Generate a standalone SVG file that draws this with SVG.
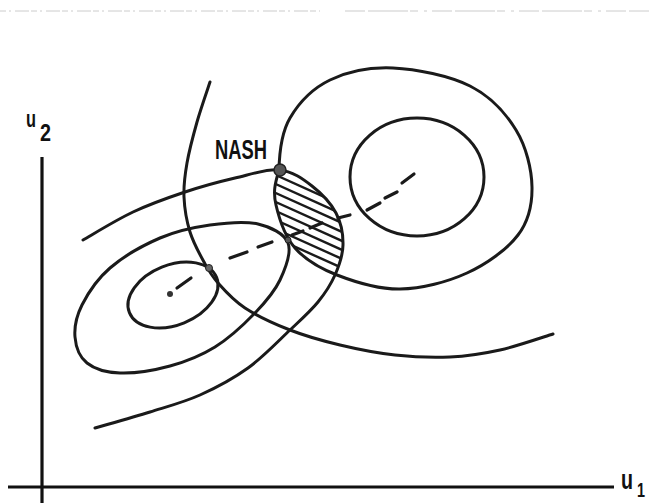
<svg xmlns="http://www.w3.org/2000/svg" width="649" height="503" viewBox="0 0 649 503">
<style>
.c{fill:none;stroke:#1a1a1a;stroke-width:3;stroke-linecap:round;stroke-linejoin:round}
.ax{fill:none;stroke:#111;stroke-width:3.2}
.h{stroke:#1a1a1a;stroke-width:2.4}
.d{stroke:#1a1a1a;stroke-width:3.2;stroke-linecap:round}
.t{font-family:"Liberation Sans","DejaVu Sans",sans-serif;font-weight:bold;fill:#111}
</style>
<defs>
<clipPath id="lensClip">
<path d="M279,170 C292.8,171.3 302.7,178.8 312,186 C321.3,193.2 330.8,203.2 336,213 C341.2,222.8 343.2,234.7 343,245 C342.8,255.3 339.2,265.5 336,275 C319.5,268.2 305.2,259.7 295,248 C284.8,236.3 279,218 276,205 C273,192 274.7,184.5 279,170 Z"/>
</clipPath>
</defs>
<rect width="649" height="503" fill="#fff"/>
<g id="scan-artifact" stroke="#aaa" stroke-width="1" fill="none" opacity="0.6">
<path d="M0,11 H320" stroke-dasharray="6 3 2 4 14 2"/>
<path d="M345,11 H649" stroke-dasharray="20 3 40 2 8 6 3 5"/>
</g>
<g id="axes">
<line class="ax" x1="42" y1="157" x2="42" y2="503"/>
<line class="ax" x1="8" y1="487" x2="614" y2="487"/>
</g>
<g id="labels">
<text class="t" x="26" y="127" font-size="24" textLength="10" lengthAdjust="spacingAndGlyphs">u</text>
<text class="t" x="40" y="141" font-size="23" textLength="11" lengthAdjust="spacingAndGlyphs">2</text>
<text class="t" x="621" y="489" font-size="28" textLength="12" lengthAdjust="spacingAndGlyphs">u</text>
<text class="t" x="637" y="497" font-size="20" textLength="8" lengthAdjust="spacingAndGlyphs">1</text>
<text class="t" x="215" y="159" font-size="27" textLength="52" lengthAdjust="spacingAndGlyphs">NASH</text>
</g>
<g id="player2-curves">
<ellipse class="c" cx="417" cy="177" rx="67" ry="59"/>
<path class="c" d="M279,170 C274.7,184.5 273,192 276,205 C279,218 284.8,236.3 295,248 C305.2,259.7 319.5,268.2 337,275 C354.5,281.8 378.3,289.3 400,289 C421.7,288.7 447.3,282 467,273 C486.7,264 507.2,249.3 518,235 C528.8,220.7 532.3,204.5 532,187 C531.7,169.5 526.3,146.8 516,130 C505.7,113.2 490.5,96.3 470,86 C449.5,75.7 416.3,69 393,68 C369.7,67 347.2,71.7 330,80 C312.8,88.3 298.8,103 290,118 C281.2,133 279.3,155.5 279,170 Z"/>
<path class="c" d="M210,82 C207.8,88.7 200.8,108.5 197,122 C193.2,135.5 189.2,150.5 187,163 C184.8,175.5 183.5,185.5 184,197 C184.5,208.5 186.7,221.2 190,232 C193.3,242.8 199.3,253.5 204,262 C208.7,270.5 211.2,275.3 218,283 C224.8,290.7 233,300.2 245,308 C257,315.8 274.2,323.8 290,330 C305.8,336.2 322.5,340.8 340,345 C357.5,349.2 376.7,353 395,355 C413.3,357 432.5,357.8 450,357 C467.5,356.2 482.8,353.8 500,350 C517.2,346.2 544.2,336.7 553,334"/>
</g>
<g id="player1-curves">
<ellipse class="c" cx="0" cy="0" rx="47" ry="30" transform="translate(173 295) rotate(-22)"/>
<path class="c" d="M288,243 C291.7,252.3 285.5,268.3 280,280 C274.5,291.7 265.8,301.8 255,313 C244.2,324.2 229.2,338.2 215,347 C200.8,355.8 185.8,361.7 170,366 C154.2,370.3 133.8,373.5 120,373 C106.2,372.5 94.5,369 87,363 C79.5,357 75.8,346.7 75,337 C74.2,327.3 76.2,316.5 82,305 C87.8,293.5 97,279.2 110,268 C123,256.8 143.3,245.2 160,238 C176.7,230.8 193.7,227.3 210,225 C226.3,222.7 245,221 258,224 C271,227 284.3,233.7 288,243 Z"/>
<path class="c" d="M83,240 C91.3,235.3 116,220 133,212 C150,204 168,197.7 185,192 C202,186.3 219.2,181.7 235,178 C250.8,174.3 267.2,168.7 279,170 C292.8,171.3 302.7,178.8 312,186 C321.3,193.2 330.8,203.2 336,213 C341.2,222.8 343.2,234.7 343,245 C342.8,255.3 339.2,265.5 335,275 C330.8,284.5 325.5,292.8 318,302 C310.5,311.2 301.7,319 290,330 C278.3,341 263,357.2 248,368 C233,378.8 216.3,387.7 200,395 C183.7,402.3 167.5,406.5 150,412 C132.5,417.5 104.2,425.3 95,428"/>
</g>
<g id="lens-hatching" clip-path="url(#lensClip)">
<line class="h" x1="250" y1="163.5" x2="360" y2="213"/>
<line class="h" x1="250" y1="172.5" x2="360" y2="222"/>
<line class="h" x1="250" y1="181.5" x2="360" y2="231"/>
<line class="h" x1="250" y1="190.5" x2="360" y2="240"/>
<line class="h" x1="250" y1="199.5" x2="360" y2="249"/>
<line class="h" x1="250" y1="208.5" x2="360" y2="258"/>
<line class="h" x1="250" y1="217.5" x2="360" y2="267"/>
<line class="h" x1="250" y1="226.5" x2="360" y2="276"/>
</g>
<g id="contract-curve">
<circle cx="170" cy="294" r="3" fill="#333"/>
<line class="d" x1="177" y1="288" x2="191" y2="278"/>
<line class="d" x1="230" y1="258" x2="247" y2="252"/>
<line class="d" x1="258" y1="247" x2="272" y2="242"/>
<line class="d" x1="292" y1="235" x2="303" y2="231"/>
<line class="d" x1="310" y1="228" x2="322" y2="223"/>
<line class="d" x1="338" y1="218" x2="350" y2="215"/>
<line class="d" x1="367" y1="210" x2="380" y2="203"/>
<line class="d" x1="385" y1="198" x2="397" y2="192"/>
<line class="d" x1="402" y1="183" x2="414" y2="174" stroke-width="4.5"/>
</g>
<g id="tangency-marks">
<circle cx="209" cy="268" r="3.5" fill="#666" stroke="#222" stroke-width="1"/>
<circle cx="288" cy="240" r="3" fill="#555" stroke="#222" stroke-width="1"/>
</g>
<g id="nash-point">
<circle cx="280" cy="170" r="6" fill="#555" stroke="#222" stroke-width="1.5"/>
</g>
</svg>
